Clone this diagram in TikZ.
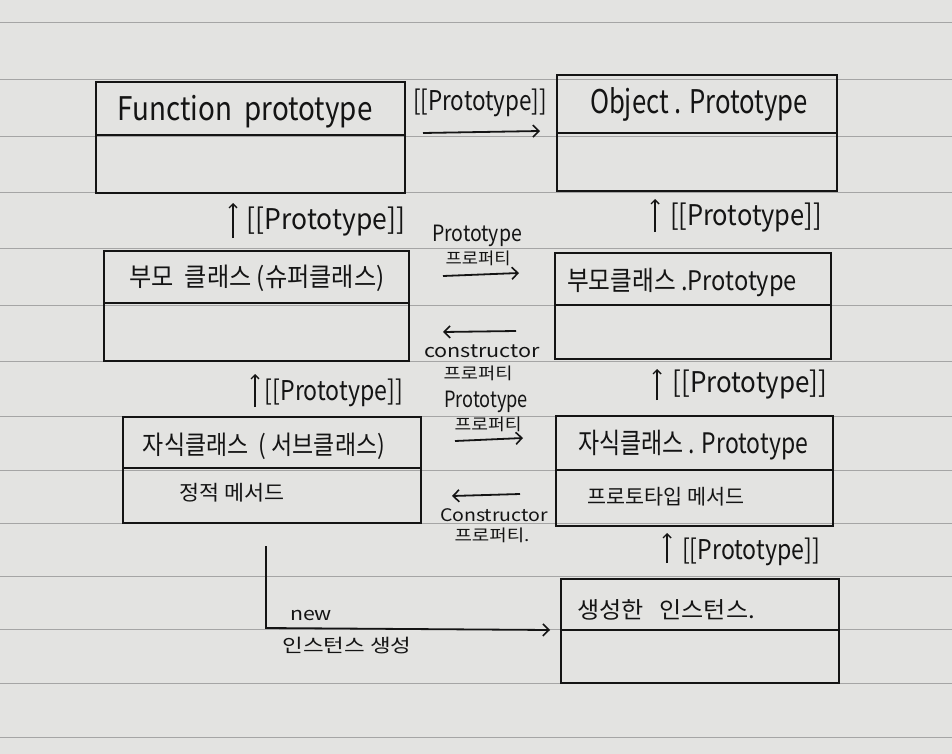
\documentclass[tikz,border=0pt]{standalone}
\usepackage{fontspec}
\setmainfont{Noto Sans CJK KR}
\usetikzlibrary{arrows.meta,calc}
\definecolor{paper}{RGB}{227,227,225}
\definecolor{ruling}{RGB}{165,165,165}
\definecolor{ink}{RGB}{20,20,20}
% text stretched to a given width while keeping the height of its font size
\newcommand\hwtext[3]{\resizebox{#1pt}{\totalheight}{\fontsize{#2pt}{#2pt}\selectfont #3}}
\tikzset{
  box/.style={draw=ink, line width=2.2pt, anchor=north west, inner sep=0pt,
              minimum width=#1},
  divider/.style={draw=ink, line width=2.2pt},
  lbl/.style={text=ink, inner sep=0pt},
  link/.style={draw=ink, line width=1.8pt, -{Straight Barb[length=6pt,width=12pt,line width=1.6pt]}},
  uplink/.style={draw=ink, line width=1.5pt, -{Straight Barb[length=4pt,width=8pt,line width=1.4pt]}},
  ruleline/.style={draw=ruling, line width=0.8pt}
}
\begin{document}
\begin{tikzpicture}[x=1pt,y=-1pt]
  % ruled notebook paper
  \fill[paper] (0,0) rectangle (952,754);
  \useasboundingbox (0,0) rectangle (952,754);
  \foreach \ry in {22,79,136,192,248,305,361,416,470,523,576,629,683,737}
    \draw[ruleline] (0,\ry) -- (952,\ry);

  % class boxes (name compartment + body compartment)
  \node[box=309pt, minimum height=111pt] (fn)   at (95,81)  {};
  \node[box=280pt, minimum height=116pt] (obj)  at (556,74) {};
  \node[box=305pt, minimum height=110pt] (par)  at (103,250) {};
  \node[box=276pt, minimum height=106pt] (parp) at (554,252) {};
  \node[box=298pt, minimum height=106pt] (chd)  at (122,416) {};
  \node[box=277pt, minimum height=110pt] (chdp) at (555,415) {};
  \node[box=278pt, minimum height=104pt] (inst) at (560,578) {};

  \draw[divider] ($(fn.north west)+(0,54)$)   -- ($(fn.north east)+(0,54)$);
  \draw[divider] ($(obj.north west)+(0,59)$)  -- ($(obj.north east)+(0,59)$);
  \draw[divider] ($(par.north west)+(0,53)$)  -- ($(par.north east)+(0,53)$);
  \draw[divider] ($(parp.north west)+(0,53)$) -- ($(parp.north east)+(0,53)$);
  \draw[divider] ($(chd.north west)+(0,52)$)  -- ($(chd.north east)+(0,52)$);
  \draw[divider] ($(chdp.north west)+(0,55)$) -- ($(chdp.north east)+(0,55)$);
  \draw[divider] ($(inst.north west)+(0,52)$) -- ($(inst.north east)+(0,52)$);

  % box titles and members
  \node[lbl] (fnT)   at (245,112) {\hwtext{255}{25}{Function\ \ prototype}};
  \node[lbl] (objT)  at (699,104) {\hwtext{218}{25}{Object . Prototype}};
  \node[lbl] (parT)  at (257,278) {\hwtext{255}{21}{부모\ \ 클래스 (슈퍼클래스)}};
  \node[lbl] (parpT) at (682,283) {\hwtext{230}{21}{부모클래스 .Prototype}};
  \node[lbl] (chdT)  at (264,446) {\hwtext{242}{21}{자식클래스 \ ( 서브클래스)}};
  \node[lbl] (chdM)  at (232,493) {\hwtext{105}{19}{정적 메서드}};
  \node[lbl] (chdpT) at (693,445) {\hwtext{230}{22}{자식클래스 . Prototype}};
  \node[lbl] (chdpM) at (666,497) {\hwtext{157}{19}{프로토타입 메서드}};
  \node[lbl] (instT) at (666,610) {\hwtext{178}{21}{생성한\ \ \ 인스턴스.}};

  % Function.prototype -> Object.prototype
  \node[lbl] (p1) at (480,103) {\hwtext{134}{21}{[[Prototype]]}};
  \coordinate (a1s) at (423,133);
  \coordinate (a1e) at (540,131);
  \draw[link] (a1s) -- (a1e);

  % [[Prototype]] links pointing upward
  \node[lbl] (p2) at (326,222) {\hwtext{158}{22}{[[Prototype]]}};
  \coordinate (u2s) at (233,238); \coordinate (u2e) at (233,203);
  \draw[uplink] (u2s) -- (u2e);
  \node[lbl] (p3) at (746,218) {\hwtext{152}{22}{[[Prototype]]}};
  \coordinate (u3s) at (655,232); \coordinate (u3e) at (655,199);
  \draw[uplink] (u3s) -- (u3e);
  \node[lbl] (p4) at (334,393) {\hwtext{138}{21}{[[Prototype]]}};
  \coordinate (u4s) at (255,407); \coordinate (u4e) at (255,374);
  \draw[uplink] (u4s) -- (u4e);
  \node[lbl] (p5) at (750,385) {\hwtext{155}{22}{[[Prototype]]}};
  \coordinate (u5s) at (657,400); \coordinate (u5e) at (657,369);
  \draw[uplink] (u5s) -- (u5e);
  \node[lbl] (p6) at (751,552) {\hwtext{138}{21}{[[Prototype]]}};
  \coordinate (u6s) at (667,563); \coordinate (u6e) at (667,533);
  \draw[uplink] (u6s) -- (u6e);

  % parent class <-> parent prototype
  \node[lbl] (pp1) at (477,236) {\hwtext{90}{17}{Prototype}};
  \node[lbl] (pp2) at (478,258) {\hwtext{65}{15}{프로퍼티}};
  \coordinate (a2s) at (443,276); \coordinate (a2e) at (519,273);
  \draw[link] (a2s) -- (a2e);
  \coordinate (a3s) at (516,331); \coordinate (a3e) at (443,332);
  \draw[link] (a3s) -- (a3e);
  \node[lbl] (pc1) at (482,351) {\hwtext{116}{18}{constructor}};
  \node[lbl] (pc2) at (478,373) {\hwtext{69}{15}{프로퍼티}};

  % child class <-> child prototype
  \node[lbl] (cp1) at (486,402) {\hwtext{84}{17}{Prototype}};
  \node[lbl] (cp2) at (488,424) {\hwtext{67}{15}{프로퍼티}};
  \coordinate (a4s) at (455,441); \coordinate (a4e) at (523,438);
  \draw[link] (a4s) -- (a4e);
  \coordinate (a5s) at (520,494); \coordinate (a5e) at (452,496);
  \draw[link] (a5s) -- (a5e);
  \node[lbl] (cc1) at (494,515) {\hwtext{108}{17}{Constructor}};
  \node[lbl] (cc2) at (492,535) {\hwtext{75}{15}{프로퍼티.}};

  % new -> created instance
  \coordinate (n0) at (266,546);
  \coordinate (n1) at (266,628);
  \coordinate (n2) at (550,630);
  \draw[link] (n0) -- (n1) -- (n2);
  \node[lbl] (nw)  at (311,615) {\hwtext{42}{18}{new}};
  \node[lbl] (nwk) at (347,646) {\hwtext{129}{17}{인스턴스 생성}};
\end{tikzpicture}
\end{document}
